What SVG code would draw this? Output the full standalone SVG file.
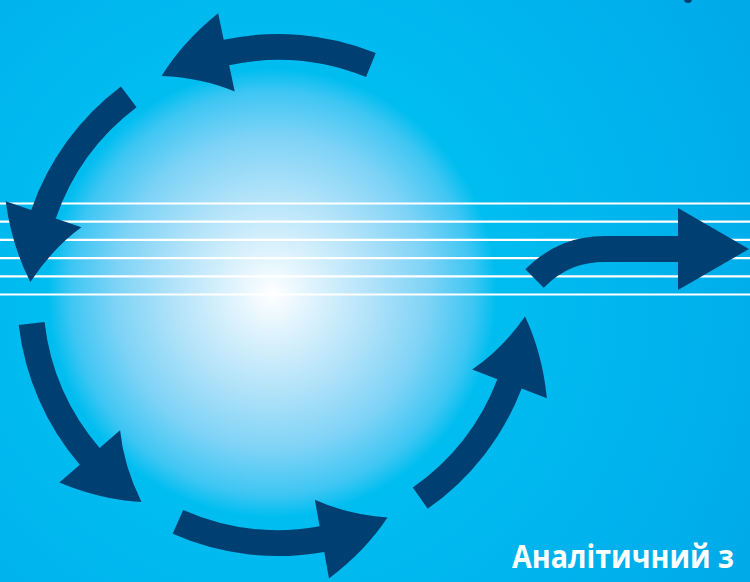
<svg xmlns="http://www.w3.org/2000/svg" xmlns:xlink="http://www.w3.org/1999/xlink" width="750" height="582" viewBox="0 0 750 582">
  <defs>
    <radialGradient id="bg" gradientUnits="userSpaceOnUse" cx="272" cy="293" r="560">
      <stop offset="0" stop-color="#00C3F3"/>
      <stop offset="0.4" stop-color="#00BDF0"/>
      <stop offset="1" stop-color="#00A9E9"/>
    </radialGradient>
    <radialGradient id="sphere" gradientUnits="userSpaceOnUse" cx="272" cy="293" r="224">
      <stop offset="0" stop-color="#FFFFFF"/>
      <stop offset="0.15" stop-color="#E4F5FD"/>
      <stop offset="0.45" stop-color="#B0E2F9"/>
      <stop offset="0.7" stop-color="#7ED3F6"/>
      <stop offset="0.9" stop-color="#3EC6F3"/>
      <stop offset="1" stop-color="#00BEF0"/>
    </radialGradient>
    <path id="arc" d="M261,0 A261,261 0 0 0 216.38,-145.95 L238.76,-161.05 Q199.23,-183.14 159.41,-189.98 Q172.95,-151.97 172.44,-116.31 L194.82,-131.41 A235,235 0 0 1 235,0 Z"/>
  </defs>
  <style>
    .arrow { fill: #003F72; }
    .line { stroke: #FFFFFF; stroke-width: 2.2; }
    .label { font-family: "Open Sans", "Noto Sans", "DejaVu Sans", sans-serif; font-weight: bold; font-size: 32px; fill: #FFFFFF; }
  </style>
  <rect x="0" y="0" width="750" height="582" fill="url(#bg)"/>
  <circle cx="272" cy="293" r="224" fill="url(#sphere)"/>
  <g id="lines">
    <line class="line" x1="0" y1="203.5" x2="750" y2="203.5"/>
    <line class="line" x1="0" y1="221.7" x2="750" y2="221.7"/>
    <line class="line" x1="0" y1="239.9" x2="750" y2="239.9"/>
    <line class="line" x1="0" y1="258.1" x2="750" y2="258.1"/>
    <line class="line" x1="0" y1="276.3" x2="750" y2="276.3"/>
    <line class="line" x1="0" y1="294.5" x2="750" y2="294.5"/>
  </g>
  <g id="connectors">
    <use xlink:href="#arc" class="arrow" transform="translate(278,295) rotate(55)"/>
    <use xlink:href="#arc" class="arrow" transform="translate(278,295) rotate(-68)"/>
    <use xlink:href="#arc" class="arrow" transform="translate(278,295) rotate(-127)"/>
    <use xlink:href="#arc" class="arrow" transform="translate(278,295) rotate(173.4)"/>
    <use xlink:href="#arc" class="arrow" transform="translate(278,295) rotate(113.8)"/>
    <path d="M534.5,278.5 C556,257 578,249 605,249 L680,249" fill="none" stroke="#003F72" stroke-width="26"/>
    <polygon class="arrow" points="678,208 749,249 678,290"/>
  </g>
  <circle cx="688" cy="-1" r="4" fill="#003F72"/>
  <g id="title">
    <text class="label" x="512" y="568" textLength="222" lengthAdjust="spacingAndGlyphs">Аналітичний з</text>
  </g>
</svg>
